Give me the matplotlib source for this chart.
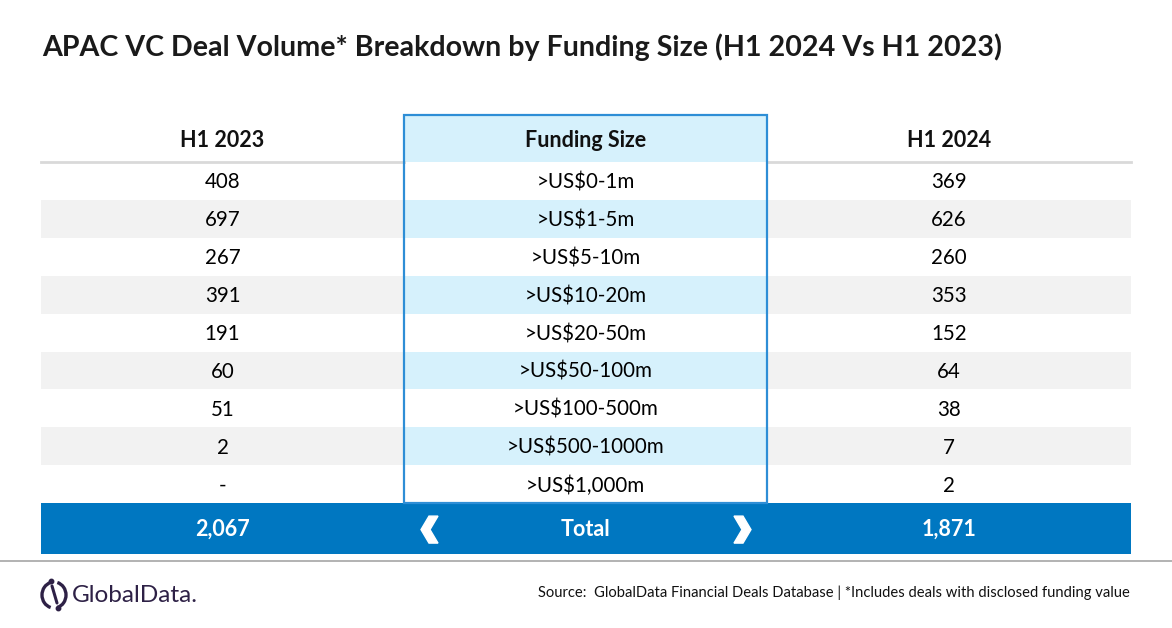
import numpy as np
import matplotlib.pyplot as plt
from matplotlib.patches import Rectangle, Arc, Polygon

# ------------------------------------------------------------
# data
# ------------------------------------------------------------
title = "APAC VC Deal Volume* Breakdown by Funding Size (H1 2024 Vs H1 2023)"
columns = ["H1 2023", "Funding Size", "H1 2024"]
funding_sizes = [">US$0-1m", ">US$1-5m", ">US$5-10m", ">US$10-20m", ">US$20-50m",
                 ">US$50-100m", ">US$100-500m", ">US$500-1000m", ">US$1,000m"]
h1_2023 = ["408", "697", "267", "391", "191", "60", "51", "2", "-"]
h1_2024 = ["369", "626", "260", "353", "152", "64", "38", "7", "2"]
total_label = "Total"
total_2023 = "2,067"
total_2024 = "1,871"
source = "Source:  GlobalData Financial Deals Database | *Includes deals with disclosed funding value"

plt.rcParams['font.family'] = ['Lato', 'DejaVu Sans']

# colours
BLUE = "#0077C1"
LIGHT_BLUE = "#D6F1FC"
STRIPE = "#F2F2F2"
HEAD_LINE = "#D9D9D9"
BORDER = "#2E8ED6"
LOGO = "#2E2146"

# layout (pixels)
W, H = 1172, 628
left, right = 41, 1131
mid_l, mid_r = 404, 767
head_top, head_bot = 115, 162
row_h = 37.9
total_h = 51

fig = plt.figure(figsize=(W / 100, H / 100), dpi=100)
ax = fig.add_axes([0, 0, 1, 1])
ax.set_xlim(0, W)
ax.set_ylim(H, 0)
ax.axis("off")
renderer = fig.canvas.get_renderer()


def esc(s):
    return s.replace("$", r"\$")


def fit_text(x, y, s, width, **kw):
    # shrink/grow font so the text spans the wanted pixel width
    t = ax.text(x, y, s, **kw)
    for _ in range(3):
        w = t.get_window_extent(renderer).width
        t.set_fontsize(t.get_fontsize() * width / w)
    return t


def chevron(xc, yc, d):
    # heavy chevron, tip pointing left (d=1) or right (d=-1)
    pts = [(xc - 4.5 * d, yc - 13.5), (xc + 4.5 * d, yc - 13.5), (xc - 3.5 * d, yc),
           (xc + 4.5 * d, yc + 13.5), (xc - 4.5 * d, yc + 13.5), (xc - 12.5 * d, yc)]
    ax.add_patch(Polygon(pts, closed=True, color="white", zorder=5))


# title
fit_text(42, 47, title, 961, fontsize=20, fontweight="bold", color="#1A1A1A",
         ha="left", va="center")

n = len(funding_sizes)
rows = np.arange(n)
y_c = head_bot + row_h * (rows + 0.5)
total_top = head_bot + row_h * n
col_x = [(left + mid_l) / 2, (mid_l + mid_r) / 2, (mid_r + right) / 2]

# stripes
odd = rows % 2 == 1
ax.barh(y_c[odd], mid_l - left, left=left, height=row_h, color=STRIPE, zorder=1)
ax.barh(y_c[odd], right - mid_r, left=mid_r, height=row_h, color=STRIPE, zorder=1)
ax.barh(y_c[odd], mid_r - mid_l, left=mid_l, height=row_h, color=LIGHT_BLUE, zorder=1)

# header
ax.barh((head_top + head_bot) / 2, mid_r - mid_l, left=mid_l, height=head_bot - head_top,
        color=LIGHT_BLUE, zorder=1)
ax.plot([left, mid_l], [head_bot, head_bot], color=HEAD_LINE, lw=2, zorder=2)
ax.plot([mid_r, right], [head_bot, head_bot], color=HEAD_LINE, lw=2, zorder=2)
for x, c in zip(col_x, columns):
    ax.text(x, (head_top + head_bot) / 2 + 2, c, fontsize=15.5, fontweight="bold",
            ha="center", va="center", color="#111111", zorder=5)

# body
for i in rows:
    yt = y_c[i] + 1.5
    ax.text(col_x[0], yt, h1_2023[i], fontsize=14.8, ha="center", va="center", zorder=5)
    ax.text(col_x[1], yt, esc(funding_sizes[i]), fontsize=14.8, ha="center", va="center", zorder=5)
    ax.text(col_x[2], yt, h1_2024[i], fontsize=14.8, ha="center", va="center", zorder=5)

# middle column border
ax.add_patch(Rectangle((mid_l, head_top), mid_r - mid_l, total_top - head_top,
                       fill=False, edgecolor=BORDER, lw=1.6, zorder=4))

# total bar
ax.barh(total_top + total_h / 2, right - left, left=left, height=total_h, color=BLUE, zorder=3)
ty = total_top + total_h / 2 + 1
ax.text(col_x[0], ty, total_2023, fontsize=15.5, fontweight="bold", color="white",
        ha="center", va="center", zorder=5)
ax.text(col_x[1], ty, total_label, fontsize=15.5, fontweight="bold", color="white",
        ha="center", va="center", zorder=5)
ax.text(col_x[2], ty, total_2024, fontsize=15.5, fontweight="bold", color="white",
        ha="center", va="center", zorder=5)
chevron(433.5, ty, 1)
chevron(738.5, ty, -1)

# footer line
ax.plot([0, W], [561, 561], color="#A6A6A6", lw=1.2)

# logo
ax.add_patch(Arc((54, 595), 24, 26, theta1=105, theta2=255, color=LOGO, lw=2.4))
ax.add_patch(Arc((54, 595), 24, 26, theta1=-75, theta2=75, color=LOGO, lw=2.4))
ax.plot([52, 57], [586, 603], color=LOGO, lw=2.2, solid_capstyle="round")
ax.plot([51, 58], [581, 608], "o", color=LOGO, ms=3.2)
fit_text(72, 595, "GlobalData.", 126, fontsize=17, color=LOGO, ha="left", va="center")

# source
fit_text(1130, 593, source, 593, fontsize=11, color="#111111", ha="right", va="center")

fig.savefig("out.png", dpi=100)
